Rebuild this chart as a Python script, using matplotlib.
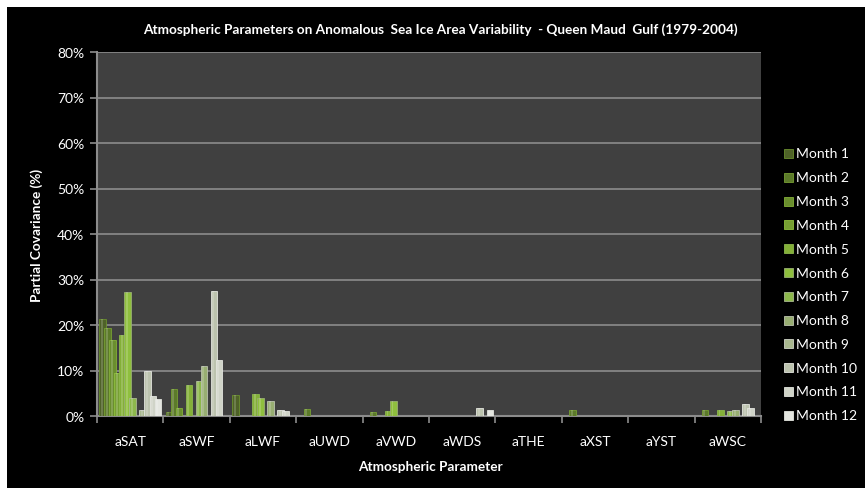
import matplotlib
matplotlib.use("Agg")
import matplotlib.pyplot as plt
import numpy as np
from matplotlib.patches import Rectangle

plt.rcParams['font.family'] = ['Lato', 'DejaVu Sans']

categories = ["aSAT", "aSWF", "aLWF", "aUWD", "aVWD", "aWDS", "aTHE", "aXST", "aYST", "aWSC"]
months = [f"Month {i}" for i in range(1, 13)]

# values (%) per parameter, months 1..12
aSAT = [21.3, 19.4, 16.8, 9.5, 17.8, 27.3, 3.9, 0, 1.3, 9.9, 4.4, 3.7]
aSWF = [0.9, 5.9, 1.7, 0, 6.8, 0, 7.6, 10.9, 0, 27.5, 12.4, 0]
aLWF = [4.6, 0, 0, 0, 4.9, 3.9, 0, 3.2, 0, 1.3, 1.0, 0]
aUWD = [0, 1.5, 0, 0, 0, 0, 0, 0, 0, 0, 0, 0]
aVWD = [0, 0.9, 0, 0, 1.2, 3.4, 0, 0, 0, 0, 0, 0]
aWDS = [0, 0, 0, 0, 0, 0, 0, 0, 0, 1.7, 0, 1.4]
aTHE = [0, 0, 0, 0, 0, 0, 0, 0, 0, 0, 0, 0]
aXST = [0, 1.4, 0, 0, 0, 0, 0, 0, 0, 0, 0, 0]
aYST = [0, 0, 0, 0, 0, 0, 0, 0, 0, 0, 0, 0]
aWSC = [0, 1.3, 0, 0, 1.3, 0, 1.0, 1.3, 0, 2.7, 1.8, 0]

table = np.array([aSAT, aSWF, aLWF, aUWD, aVWD, aWDS, aTHE, aXST, aYST, aWSC])  # (10, 12)

colors = ["#4F6228", "#5C7A2A", "#6A8E2E", "#779F33", "#84B038", "#8FBF3E",
          "#8DB84C", "#98AE72", "#A9B88F", "#BCC3AE", "#D0D4C8", "#E4E6E0"]

W, H = 865, 489
fig = plt.figure(figsize=(W / 100, H / 100), dpi=100, facecolor="black")
# white margin on left/top
fig.patches.append(Rectangle((0, 1 - 8 / H), 1, 8 / H, transform=fig.transFigure,
                             facecolor="white", edgecolor="none", zorder=0))
fig.patches.append(Rectangle((0, 0), 7 / W, 1, transform=fig.transFigure,
                             facecolor="white", edgecolor="none", zorder=0))

L, R, T, B = 97, 761, 53, 417
ax = fig.add_axes([L / W, 1 - B / H, (R - L) / W, (B - T) / H])
ax.set_zorder(2)
ax.set_facecolor("#404040")

n = len(months)
spacing = 0.0755
bw = 0.098
x = np.arange(len(categories))
for k in range(n):
    pos = x + (k - (n - 1) / 2) * spacing
    vals = table[:, k]
    ax.bar(pos, vals, width=bw, color=colors[k], edgecolor=colors[min(k + 2, 11)],
           linewidth=0.6, zorder=3 + k)
    # soft highlight stripe for the glossy look
    ax.bar(pos - bw * 0.12, vals, width=bw * 0.3, color="white", alpha=0.18,
           linewidth=0, zorder=3 + k)

ax.set_xlim(-0.5, len(categories) - 0.5)
ax.set_ylim(0, 80)
yt = np.arange(0, 81, 10)
ax.set_yticks(yt)
ax.set_yticklabels([f"{v}%" for v in yt], color="white", fontsize=10)
ax.yaxis.grid(True, color="#8C8C8C", linewidth=1.2, zorder=1)
ax.set_axisbelow(True)
ax.set_xticks(x)
ax.set_xticklabels(categories, color="white", fontsize=10)
ax.set_xticks(np.arange(-0.5, len(categories)), minor=True)
ax.tick_params(axis="x", which="major", length=0, pad=14)
ax.tick_params(axis="x", which="minor", length=5, color="#8C8C8C", width=1.2)
ax.tick_params(axis="y", length=5, color="#8C8C8C", width=1.2, pad=4)
for s in ["left", "bottom"]:
    ax.spines[s].set_color("#8C8C8C")
    ax.spines[s].set_linewidth(1.5)
for s in ["right", "top"]:
    ax.spines[s].set_visible(False)

fig.text(440 / W, 1 - 30 / H,
         "Atmospheric Parameters on Anomalous  Sea Ice Area Variability  - Queen Maud  Gulf (1979-2004)",
         color="white", fontsize=9.8, fontweight="bold", ha="center", va="center")
fig.text(37 / W, 1 - 235 / H, "Partial Covariance (%)", color="white", fontsize=9.8,
         fontweight="bold", rotation=90, ha="center", va="center")
fig.text(430 / W, 1 - 467 / H, "Atmospheric Parameter", color="white", fontsize=9.8,
         fontweight="bold", ha="center", va="center")

# legend drawn manually (square swatches + labels)
y0, dy = 154.5, 23.8
for i, (lab, c) in enumerate(zip(months, colors)):
    yc = y0 + i * dy
    fig.patches.append(Rectangle((784 / W, 1 - (yc + 4.5) / H), 9 / W, 9 / H,
                                 transform=fig.transFigure, facecolor=c,
                                 edgecolor=colors[min(i + 2, 11)], linewidth=0.6, zorder=3))
    fig.text(796 / W, 1 - yc / H, lab, color="white", fontsize=10, ha="left", va="center")

fig.savefig("out.png", dpi=100, facecolor=fig.get_facecolor())
